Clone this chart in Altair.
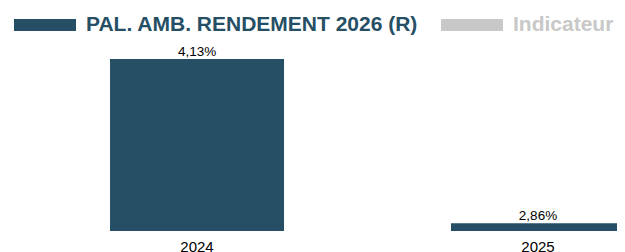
import altair as alt
import pandas as pd

years = ["2024", "2025"]
values = [4.13, 2.86]
series_names = ["PAL. AMB. RENDEMENT 2026 (R)", "Indicateur"]
series_colors = ["#264f65", "#c8c8c8"]
y_domain = [2.8, 4.13]

FONT = "Liberation Sans, Arial, sans-serif"

df = pd.DataFrame({"year": years, "value": values, "series": [series_names[0]] * len(years)})

base = alt.Chart(df).encode(
    x=alt.X(
        "year:N",
        scale=alt.Scale(range=[0, 617], paddingInner=0.4897, paddingOuter=0.1496, align=1),
        axis=alt.Axis(
            title=None, ticks=False, domain=False, labelAngle=0,
            labelFontSize=15, labelColor="#000000", labelFont=FONT, labelPadding=8,
        ),
    ),
    y=alt.Y("value:Q", scale=alt.Scale(domain=y_domain, zero=False, nice=False), axis=None),
)

bars = base.mark_bar().encode(
    y2=alt.datum(y_domain[0]),
    color=alt.Color(
        "series:N",
        scale=alt.Scale(domain=series_names, range=series_colors),
        legend=alt.Legend(
            title=None, orient="none", legendX=6, legendY=-65, direction="horizontal",
            columns=2, symbolType="M-1,-0.19H1V0.19H-1Z", symbolSize=3844,
            symbolStrokeWidth=0, symbolOpacity=1, labelFontSize=21, labelFontWeight="bold",
            labelFont=FONT, labelOffset=10, columnPadding=22, labelLimit=1000,
            labelColor=alt.ExprRef("datum.label === 'Indicateur' ? '#c8c8c8' : '#264f65'"),
        ),
    ),
)

labels = base.mark_text(
    baseline="alphabetic", dy=-3, fontSize=13.5, font=FONT, color="#000000"
).transform_calculate(
    label="replace(format(datum.value, '.2f'), '.', ',') + '%'"
).encode(text="label:N")

chart = (bars + labels).properties(
    width=609, height=172,
    autosize=alt.AutoSizeParams(type="none"),
    padding={"left": 0, "right": 0, "top": 51, "bottom": 21},
).configure_view(stroke=None)

chart.save("out.html", embed_options={"renderer": "svg", "actions": False})
